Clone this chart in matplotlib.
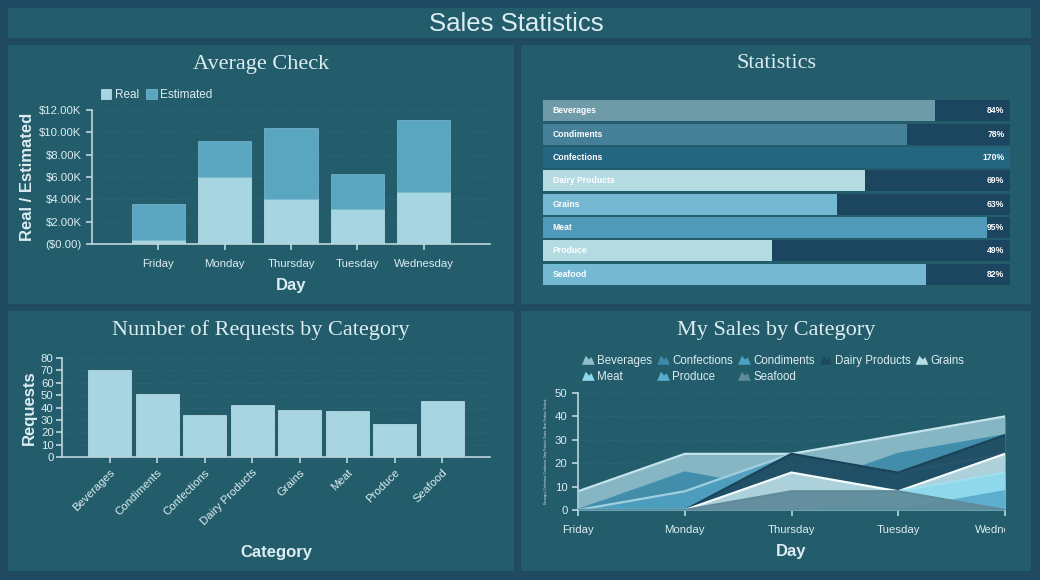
import matplotlib
matplotlib.use("Agg")
import matplotlib.pyplot as plt
import numpy as np
from matplotlib.patches import Rectangle, Patch, Polygon
from matplotlib.legend_handler import HandlerPatch
from matplotlib.transforms import Bbox, TransformedBbox

# ---------------- data ----------------
days = ["Friday", "Monday", "Thursday", "Tuesday", "Wednesday"]
real = [400, 6000, 4000, 3100, 4700]
estimated = [3200, 3200, 6400, 3200, 6400]

stat_cats = ["Beverages", "Condiments", "Confections", "Dairy Products",
             "Grains", "Meat", "Produce", "Seafood"]
stat_pct = [84, 78, 170, 69, 63, 95, 49, 82]

req_cats = ["Beverages", "Condiments", "Confections", "Dairy Products",
            "Grains", "Meat", "Produce", "Seafood"]
requests = [70, 51, 34, 42, 38, 37, 27, 45]

area_names = ["Beverages", "Confections", "Condiments", "Dairy Products",
              "Grains", "Meat", "Produce", "Seafood"]
beverages = [8, 24, 24, 32, 40]
confections = [0, 16, 8, 24, 32]
condiments = [0, 8, 24, 16, 24]
dairy = [0, 0, 24, 16, 32]
grains = [0, 0, 16, 8, 24]
meat = [0, 0, 0, 8, 16]
produce = [0, 0, 0, 0, 8]
seafood = [0, 0, 8, 8, 0]

# ---------------- style ----------------
W, H = 1040, 580
outer = "#1f4a61"
panel = "#235c6b"
txt = "#dcedf1"
spine = "#bcd6dd"
grid = "#2f6b7a"
sans = ["Liberation Sans", "DejaVu Sans"]
serif = ["Liberation Serif", "DejaVu Serif"]
tick_fs = 8.2

plt.rcParams["font.family"] = sans
plt.rcParams["text.color"] = txt

fig = plt.figure(figsize=(W / 100, H / 100), dpi=100, facecolor=outer)


def box(x0, y0, x1, y1):
    return [x0 / W, 1 - y1 / H, (x1 - x0) / W, (y1 - y0) / H]


def add_panel(x0, y0, x1, y1):
    b = box(x0, y0, x1, y1)
    fig.add_artist(Rectangle((b[0], b[1]), b[2], b[3], transform=fig.transFigure,
                             facecolor=panel, edgecolor="none", zorder=0))


def style_axes(ax):
    ax.set_facecolor("none")
    for s in ["top", "right"]:
        ax.spines[s].set_visible(False)
    for s in ["left", "bottom"]:
        ax.spines[s].set_color(spine)
        ax.spines[s].set_linewidth(1.2)
    ax.tick_params(colors=spine, labelcolor=txt, labelsize=tick_fs, length=4, width=1.2)
    ax.grid(axis="y", color=grid, linestyle=":", linewidth=0.8)
    ax.set_axisbelow(True)


# panels
add_panel(8, 8, 1031, 38)
add_panel(8, 45, 514, 304)
add_panel(521, 45, 1031, 304)
add_panel(8, 311, 514, 571)
add_panel(521, 311, 1031, 571)

fig.text(516 / W, 1 - 24 / H, "Sales Statistics", ha="center", va="center",
         fontsize=18.5, color=txt, family=["Liberation Sans Narrow", "Liberation Sans", "DejaVu Sans"])

# ---------------- Average Check ----------------
fig.text(261 / W, 1 - 65 / H, "Average Check", ha="center", va="center",
         fontsize=16, family=serif, color=txt)
ax1 = fig.add_axes(box(92, 110, 490, 244))
style_axes(ax1)
x = np.arange(len(days))
ax1.bar(x, real, width=0.8, color="#a8d5e2", edgecolor="#c9e6ee", linewidth=0.5, label="Real")
ax1.bar(x, estimated, width=0.8, bottom=real, color="#5aa5c0", edgecolor="#7fbcd1",
        linewidth=0.5, label="Estimated")
ax1.set_xlim(-1, 5)
ax1.set_ylim(0, 12000)
ax1.set_yticks(np.arange(0, 12001, 2000))
ax1.yaxis.set_major_formatter(plt.FuncFormatter(
    lambda v, p: "($0.00)" if v == 0 else "${:.2f}K".format(v / 1000)))
ax1.set_xticks(x)
ax1.set_xticklabels(days)
ax1.tick_params(axis="x", pad=7)
ax1.set_ylabel("Real / Estimated", fontsize=12, fontweight="bold", color=txt, labelpad=3)
ax1.set_xlabel("Day", fontsize=12, fontweight="bold", color=txt, labelpad=6)
ax1.legend(loc="lower left", bbox_to_anchor=(0.01, 1.03), ncol=2, frameon=False,
           fontsize=8.5, handlelength=0.9, handleheight=0.9, handletextpad=0.3,
           columnspacing=0.6, borderaxespad=0, labelcolor=txt)

# ---------------- Statistics ----------------
fig.text(776 / W, 1 - 63 / H, "Statistics", ha="center", va="center",
         fontsize=16, family=serif, color=txt)
ax2 = fig.add_axes(box(543, 99, 1010, 286))
ax2.set_facecolor("none")
ax2.axis("off")
stat_colors = ["#6f9aa8", "#457f98", "#246580", "#b5dbe2",
               "#74b8d2", "#4f9ab8", "#b5dbe2", "#74b8d2"]
y = np.arange(len(stat_cats))
ax2.barh(y, [100] * len(y), height=0.9, color="#1c4560")
ax2.barh(y, np.minimum(stat_pct, 100), height=0.9, color=stat_colors)
for i in range(len(stat_cats)):
    ax2.text(2.1, y[i], stat_cats[i], ha="left", va="center", fontsize=6.2,
             fontweight="bold", color="white")
    ax2.text(98.8, y[i], "{}%".format(stat_pct[i]), ha="right", va="center",
             fontsize=6.2, fontweight="bold", color="white")
ax2.set_xlim(0, 100)
ax2.set_ylim(len(y) - 0.5, -0.5)

# ---------------- Number of Requests ----------------
fig.text(261 / W, 1 - 330 / H, "Number of Requests by Category", ha="center",
         va="center", fontsize=16, family=serif, color=txt)
ax3 = fig.add_axes(box(62, 358, 490, 457))
style_axes(ax3)
xr = np.arange(len(req_cats))
ax3.bar(xr, requests, width=0.9, color="#a8d5e2", edgecolor="#c9e6ee", linewidth=0.5)
ax3.set_xlim(-1, 8)
ax3.set_ylim(0, 80)
ax3.set_yticks(np.arange(0, 81, 10))
ax3.set_xticks(xr)
ax3.set_xticklabels(req_cats, rotation=45, ha="right", rotation_mode="anchor")
ax3.tick_params(axis="y", pad=2)
ax3.set_ylabel("Requests", fontsize=12, fontweight="bold", color=txt, labelpad=3)
ax3.set_xlabel("Category", fontsize=12, fontweight="bold", color=txt, labelpad=13)

# ---------------- My Sales by Category ----------------
fig.text(776 / W, 1 - 330 / H, "My Sales by Category", ha="center", va="center",
         fontsize=16, family=serif, color=txt)
ax4 = fig.add_axes(box(578, 393, 1005, 510))
style_axes(ax4)
series = [beverages, confections, condiments, dairy, grains, meat, produce, seafood]
fills = ["#8fbfcc", "#3d8aa8", "#4f9fc0", "#1d4a60", "#b9dde5", "#8dd8ec", "#5aaccc", "#5f8a99"]
lines = ["#c5e4ec", "#3f8fae", "#9fd0e0", "#1a4358", "#f4fbfc", "#9ee0f0", "#5aaccc", "#5f8a99"]
xa = np.arange(len(days))
for i in range(len(series)):
    ax4.fill_between(xa, 0, series[i], color=fills[i], alpha=0.92, linewidth=0, zorder=2 + i)
    ax4.plot(xa, series[i], color=lines[i], linewidth=1.6, zorder=2 + i)
ax4.set_xlim(0, 4)
ax4.set_ylim(0, 50)
ax4.set_yticks(np.arange(0, 51, 10))
ax4.set_xticks(xa)
ax4.set_xticklabels(days)
ax4.tick_params(axis="x", pad=7)
clip = TransformedBbox(Bbox([[-0.2, -1.0], [1.0, 1.0]]), ax4.transAxes)
for lab in ax4.get_xticklabels():
    lab.set_clip_on(True)
    lab.set_clip_box(clip)
ax4.set_xlabel("Day", fontsize=12, fontweight="bold", color=txt, labelpad=6)
ax4.set_ylabel(", ".join(area_names), fontsize=2, color=txt, labelpad=5)


def mountain(legend, orig_handle, xdescent, ydescent, width, height, fontsize):
    w, h = width, height
    pts = [(-xdescent, -ydescent), (-xdescent + 0.3 * w, -ydescent + 0.95 * h),
           (-xdescent + 0.55 * w, -ydescent + 0.55 * h), (-xdescent + 0.75 * w, -ydescent + 0.8 * h),
           (-xdescent + w, -ydescent)]
    return Polygon(pts, closed=True)


handles = [Patch(facecolor=fills[i], edgecolor="none") for i in range(len(area_names))]
order = [0, 5, 1, 6, 2, 7, 3, 4]
fig.legend([handles[i] for i in order], [area_names[i] for i in order],
           loc="upper left", bbox_to_anchor=(582 / W, 1 - 355 / H), ncol=5,
           frameon=False, fontsize=8.3, handlelength=1.1, handleheight=0.9,
           handletextpad=0.2, columnspacing=0.45, labelspacing=0.35,
           borderaxespad=0, borderpad=0, labelcolor=txt,
           handler_map={Patch: HandlerPatch(patch_func=mountain)})

fig.savefig("out.png", dpi=100, facecolor=outer)
